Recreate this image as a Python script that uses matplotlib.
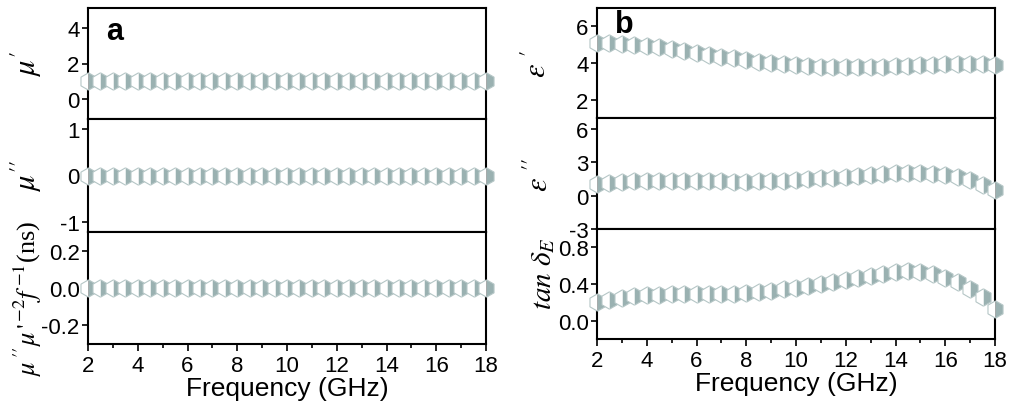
import numpy as np
import matplotlib
matplotlib.use("Agg")
import matplotlib.pyplot as plt
from matplotlib.ticker import MultipleLocator

plt.rcParams['font.family'] = ['Liberation Sans', 'DejaVu Sans']
plt.rcParams['mathtext.fontset'] = 'stix'
plt.rcParams['axes.unicode_minus'] = False

# frequency grid, 2-18 GHz every 0.5 GHz
freq = np.arange(2, 18.01, 0.5)

mu_real = [1.0] * 33
mu_imag = [0.0] * 33
c0 = [0.0] * 33

eps_real = [5.1, 5.1, 5.05, 5.0, 4.95, 4.85, 4.75, 4.65, 4.55, 4.45, 4.35,
            4.25, 4.15, 4.05, 3.98, 3.92, 3.87, 3.83, 3.8, 3.78, 3.76, 3.76,
            3.77, 3.79, 3.81, 3.84, 3.87, 3.9, 3.92, 3.93, 3.93, 3.92, 3.9]
eps_imag = [1.02, 1.15, 1.25, 1.32, 1.36, 1.36, 1.36, 1.34, 1.32, 1.3, 1.28,
            1.26, 1.27, 1.3, 1.32, 1.36, 1.42, 1.48, 1.55, 1.62, 1.7, 1.8,
            1.88, 1.96, 2.04, 2.08, 2.07, 2.0, 1.86, 1.66, 1.38, 1.0, 0.5]
tan_e = [0.2, 0.23, 0.25, 0.27, 0.28, 0.28, 0.29, 0.29, 0.29, 0.29, 0.29,
         0.29, 0.3, 0.31, 0.32, 0.34, 0.36, 0.38, 0.4, 0.42, 0.44, 0.47,
         0.49, 0.51, 0.53, 0.54, 0.53, 0.51, 0.47, 0.42, 0.35, 0.26, 0.13]

W, H = 1010, 406
fig = plt.figure(figsize=(W / 100, H / 100), dpi=100)


def box(x0, x1, y0, y1):
    # pixel box -> figure coords
    return [x0 / W, 1 - y1 / H, (x1 - x0) / W, (y1 - y0) / H]


panels = [
    # left column
    (box(88, 486, 9, 120), mu_real, (-1.1, 5.1), [0, 2, 4], None,
     r"$\mu'$", 22, (-0.11, 0.5)),
    (box(88, 486, 120, 233), mu_imag, (-1.22, 1.22), [-1, 0, 1], None,
     r"$\mu''$", 22, (-0.11, 0.5)),
    (box(88, 486, 233, 345), c0, (-0.3, 0.3), [-0.2, 0.0, 0.2], '%.1f',
     r"$\mu\,''\mu\,'^{\,\mathrm{-}2}f^{\,\mathrm{-}1}$(ns)", 19, (-0.11, 0.42)),
    # right column
    (box(597, 995, 9, 119), eps_real, (1, 7), [2, 4, 6], None,
     r"$\varepsilon\ '$", 22, (-0.11, 0.5)),
    (box(597, 995, 119, 230), eps_imag, (-3, 7), [-3, 0, 3, 6], None,
     r"$\varepsilon\ ''$", 22, (-0.105, 0.5)),
    (box(597, 995, 230, 340), tan_e, (-0.2, 1.0), [0.0, 0.4, 0.8], '%.1f',
     r"$tan\ \delta_E$", 21, (-0.1, 0.6)),
]

axes = []
for i, (rect, y, ylim, yt, fmt, lab, lsize, lpos) in enumerate(panels):
    ax = fig.add_axes(rect)
    ax.plot(freq, y, linestyle='none', marker='h', markersize=12.5,
            fillstyle='right', markerfacecolor='#9ab1b1',
            markerfacecoloralt='white', markeredgecolor='#b5c6c6',
            markeredgewidth=0.8, clip_on=False, zorder=3)
    ax.set_xlim(2, 18)
    ax.set_ylim(*ylim)
    ax.set_yticks(yt)
    if fmt:
        ax.set_yticklabels([fmt % v for v in yt])
    for s in ax.spines.values():
        s.set_linewidth(1.5)
    ax.tick_params(axis='y', direction='out', length=4, width=1.2,
                   labelsize=16, pad=2)
    bottom = i in (2, 5)
    if bottom:
        ax.xaxis.set_major_locator(MultipleLocator(2))
        ax.xaxis.set_minor_locator(MultipleLocator(1))
        ax.tick_params(axis='x', which='major', direction='out', length=5,
                       width=1.2, labelsize=16, pad=3)
        ax.tick_params(axis='x', which='minor', direction='out', length=3,
                       width=1.2)
        ax.set_xlabel('Frequency (GHz)', fontsize=19, labelpad=0)
    else:
        ax.tick_params(axis='x', which='both', bottom=False, labelbottom=False)
    ax.set_ylabel(lab, fontsize=lsize, fontfamily='Liberation Serif')
    ax.yaxis.set_label_coords(*lpos)
    axes.append(ax)

axes[0].text(0.045, 0.93, 'a', transform=axes[0].transAxes, fontsize=22,
             fontweight='bold', va='top', ha='left')
axes[3].text(0.045, 0.995, 'b', transform=axes[3].transAxes, fontsize=22,
             fontweight='bold', va='top', ha='left', zorder=5)

fig.savefig('out.png', dpi=100)
